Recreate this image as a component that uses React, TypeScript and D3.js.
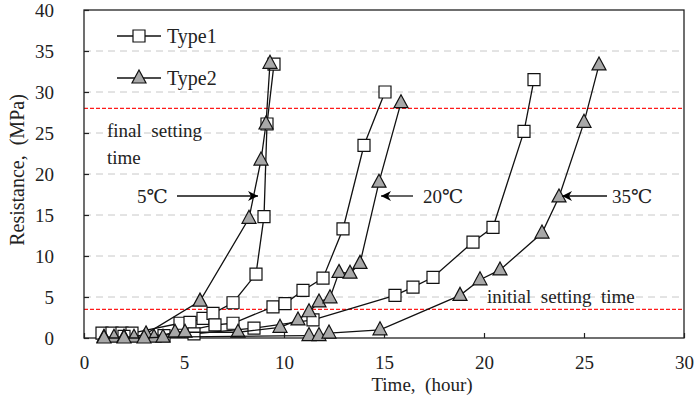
import React, { useEffect, useRef } from 'react';
import * as d3 from 'd3';

const timeTicks = [0, 5, 10, 15, 20, 25, 30];
const resistanceTicks = [0, 5, 10, 15, 20, 25, 30, 35, 40];
const gridLevels = [5, 10, 15, 20, 25, 30, 35];

// penetration resistance, [time (hour), resistance (MPa)]
const type1At5 = [[0.9, 0.6], [1.4, 0.6], [1.9, 0.6], [2.4, 0.6], [4.8, 1.8], [5.3, 1.9], [5.95, 2.4], [6.45, 3.0], [7.45, 4.3], [8.6, 7.8], [9.0, 14.8], [9.15, 26.1], [9.5, 33.4]];
const type1At20 = [[4.0, 0.3], [6.55, 1.6], [7.45, 1.8], [9.45, 3.8], [10.05, 4.2], [10.95, 5.8], [11.95, 7.3], [12.95, 13.3], [14.0, 23.5], [15.05, 30.0]];
const type1At35 = [[2.0, 0.2], [5.5, 0.5], [8.5, 1.2], [11.45, 2.2], [15.55, 5.2], [16.45, 6.2], [17.45, 7.4], [19.45, 11.7], [20.45, 13.5], [22.0, 25.2], [22.5, 31.5]];
const type2At5 = [[1.0, 0.1], [1.5, 0.1], [2.0, 0.1], [2.5, 0.1], [3.1, 0.5], [5.8, 4.5], [8.25, 14.6], [8.85, 21.7], [9.1, 26.1], [9.3, 33.5]];
const type2At20 = [[3.5, 0.1], [4.55, 0.7], [5.05, 0.7], [7.7, 0.7], [9.8, 1.3], [10.7, 2.2], [11.25, 3.2], [11.75, 4.4], [12.3, 4.9], [12.75, 8.0], [13.3, 7.9], [13.8, 9.1], [14.75, 19.0], [15.85, 28.7]];
const type2At35 = [[1.0, 0.0], [2.0, 0.0], [3.0, 0.0], [3.95, 0.1], [11.25, 0.3], [11.75, 0.3], [12.25, 0.6], [14.8, 1.0], [18.8, 5.2], [19.8, 7.1], [20.8, 8.3], [22.9, 12.8], [23.75, 17.2], [25.0, 26.3], [25.75, 33.3]];

const finalSetting = 28;
const initialSetting = 3.5;

const FONT = "'Liberation Serif', 'DejaVu Serif', serif";

const App = () => {
  const ref = useRef<SVGSVGElement>(null);

  useEffect(() => {
    const svg = d3.select(ref.current);
    svg.selectAll('*').remove();

    const x = d3.scaleLinear().domain([0, 30]).range([84, 684]);
    const y = d3.scaleLinear().domain([0, 40]).range([338, 10]);

    svg.append('defs').append('marker')
      .attr('id', 'arrow')
      .attr('viewBox', '0 0 10 10')
      .attr('refX', 10)
      .attr('refY', 5)
      .attr('markerWidth', 10)
      .attr('markerHeight', 10)
      .attr('markerUnits', 'userSpaceOnUse')
      .attr('orient', 'auto')
      .append('path')
      .attr('d', 'M0,0 L10,5 L0,10 L3,5 Z')
      .attr('fill', '#000');

    // grid
    svg.append('g').selectAll('line')
      .data(gridLevels)
      .enter()
      .append('line')
      .attr('x1', x(0)).attr('x2', x(30))
      .attr('y1', d => y(d)).attr('y2', d => y(d))
      .attr('stroke', '#c8c8c8')
      .attr('stroke-width', 1)
      .attr('stroke-dasharray', '7,5');

    // setting time thresholds
    svg.append('g').selectAll('line')
      .data([finalSetting, initialSetting])
      .enter()
      .append('line')
      .attr('x1', x(0)).attr('x2', x(30))
      .attr('y1', d => y(d)).attr('y2', d => y(d))
      .attr('stroke', '#ff1a1a')
      .attr('stroke-width', 1.3)
      .attr('stroke-dasharray', '4,2');

    svg.append('rect')
      .attr('x', x(0)).attr('y', y(40))
      .attr('width', x(30) - x(0)).attr('height', y(0) - y(40))
      .attr('fill', 'none')
      .attr('stroke', '#222')
      .attr('stroke-width', 1.3);

    const xAxis = svg.append('g')
      .attr('transform', `translate(0,${y(0)})`)
      .call(d3.axisBottom(x).tickValues(timeTicks).tickSize(-5).tickPadding(18).tickFormat(d3.format('d')));
    const yAxis = svg.append('g')
      .attr('transform', `translate(${x(0)},0)`)
      .call(d3.axisLeft(y).tickValues(resistanceTicks).tickSize(-5).tickPadding(30).tickFormat(d3.format('d')));
    [xAxis, yAxis].forEach(g => {
      g.select('.domain').remove();
      g.selectAll('line').attr('stroke', '#222').attr('stroke-width', 1.2);
      g.selectAll('text').style('font-family', FONT).style('font-size', '19px').attr('fill', '#222');
    });

    const line = d3.line().x(d => x(d[0])).y(d => y(d[1]));
    const square = 'M-6,-6 H6 V6 H-6 Z';
    const triangle = 'M0,-8 L7,5 L-7,5 Z';

    const series = [
      { data: type1At5, shape: square, fill: '#fff' },
      { data: type1At20, shape: square, fill: '#fff' },
      { data: type1At35, shape: square, fill: '#fff' },
      { data: type2At5, shape: triangle, fill: '#a8a8a8' },
      { data: type2At20, shape: triangle, fill: '#a8a8a8' },
      { data: type2At35, shape: triangle, fill: '#a8a8a8' },
    ];

    series.forEach(s => {
      const g = svg.append('g');
      g.append('path')
        .attr('d', line(s.data as [number, number][]))
        .attr('fill', 'none')
        .attr('stroke', '#111')
        .attr('stroke-width', 1.3);
      g.selectAll('path.m')
        .data(s.data)
        .enter()
        .append('path')
        .attr('class', 'm')
        .attr('d', s.shape)
        .attr('transform', d => `translate(${x(d[0])},${y(d[1])})`)
        .attr('fill', s.fill)
        .attr('stroke', '#111')
        .attr('stroke-width', 1.2);
    });

    const label = (tx, ty, str, size = 19, anchor = 'start') => svg.append('text')
      .attr('x', tx).attr('y', ty)
      .attr('text-anchor', anchor)
      .attr('fill', '#222')
      .style('font-family', FONT)
      .style('font-size', `${size}px`)
      .style('white-space', 'pre')
      .text(str);

    // legend
    const legend = [
      { name: 'Type1', shape: square, fill: '#fff', cy: 36 },
      { name: 'Type2', shape: triangle, fill: '#a8a8a8', cy: 78 },
    ];
    legend.forEach(l => {
      svg.append('line')
        .attr('x1', 117).attr('x2', 161)
        .attr('y1', l.cy).attr('y2', l.cy)
        .attr('stroke', '#111').attr('stroke-width', 1.3);
      svg.append('path')
        .attr('d', l.shape)
        .attr('transform', `translate(139,${l.cy})`)
        .attr('fill', l.fill)
        .attr('stroke', '#111')
        .attr('stroke-width', 1.2);
      label(167, l.cy + 7, l.name, 20);
    });

    label(107, 137, 'final  setting');
    label(107, 164, 'time');
    label(137, 203, '5℃');
    label(423, 203, '20℃');
    label(612, 203, '35℃');
    label(487, 303, 'initial  setting  time');

    const arrows = [[177, 258], [413, 381], [607, 562]];
    arrows.forEach(a => {
      svg.append('line')
        .attr('x1', a[0]).attr('x2', a[1])
        .attr('y1', 196).attr('y2', 196)
        .attr('stroke', '#111').attr('stroke-width', 1.3)
        .attr('marker-end', 'url(#arrow)');
    });

    label(422, 391, 'Time,  (hour)', 19, 'middle');
    label(0, 0, 'Resistance,  (MPa)', 20, 'middle')
      .attr('transform', 'translate(24,170) rotate(-90)');
  }, []);

  return (
    <svg ref={ref} width={694} height={407} style={{ position: 'absolute', left: 0, top: 0, background: 'white' }} />
  );
};

export default App;
